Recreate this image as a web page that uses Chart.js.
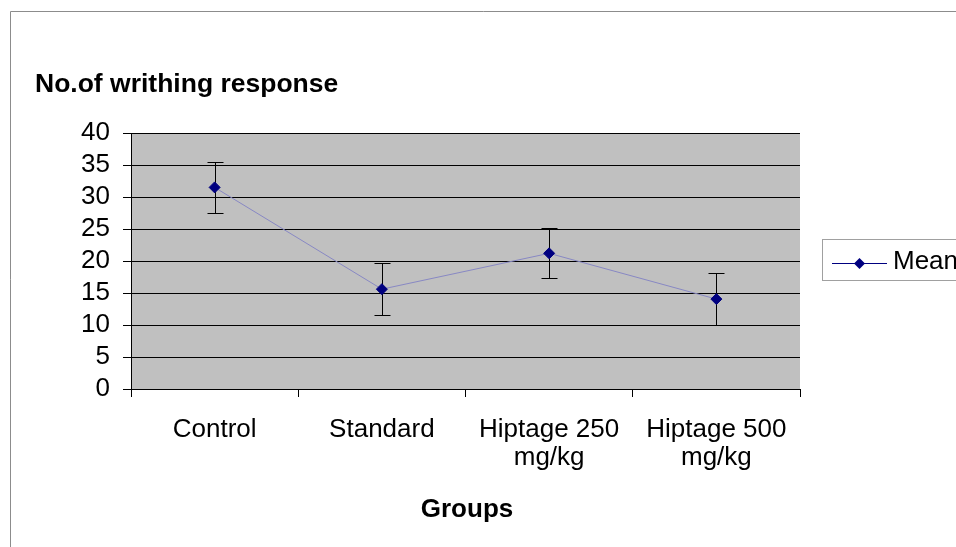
<!DOCTYPE html>
<html>
<head>
<meta charset="utf-8">
<script src="https://cdn.jsdelivr.net/npm/chart.js@4.4.0/dist/chart.umd.min.js"></script>
<style>
  body { margin: 0; background: #fff; }
  canvas { display: block; }
</style>
</head>
<body>
<canvas id="chart" width="956" height="547"></canvas>
<script>
const groups = [["Control"], ["Standard"], ["Hiptage 250", "mg/kg"], ["Hiptage 500", "mg/kg"]];
const meanValues = [31.5, 15.6, 21.2, 14.05];
const errorValues = [4.0, 4.1, 3.9, 4.05];
const yMin = 0, yMax = 40, yStep = 5;
const seriesName = "Mean";
const chartTitle = "No.of writhing response";
const xTitle = "Groups";

const FONT = '"Liberation Sans", Arial, sans-serif';
const NAVY = "#000080";

// grey plot area, error bars, titles, legend and outer frame
const extras = {
  id: "extras",
  beforeDraw(chart) {
    const { ctx, chartArea: a } = chart;
    ctx.save();
    ctx.fillStyle = "#c0c0c0";
    ctx.fillRect(a.left, a.top, a.right - a.left, a.bottom - a.top);
    ctx.restore();
  },
  beforeDatasetsDraw(chart) {
    const { ctx, scales } = chart;
    ctx.save();
    ctx.strokeStyle = "#000";
    ctx.lineWidth = 1;
    meanValues.forEach((v, i) => {
      const x = Math.round(scales.x.getPixelForValue(i)) + 0.5;
      const yTop = Math.round(scales.y.getPixelForValue(v + errorValues[i])) + 0.5;
      const yBot = Math.round(scales.y.getPixelForValue(v - errorValues[i])) + 0.5;
      ctx.beginPath();
      ctx.moveTo(x, yTop); ctx.lineTo(x, yBot);
      ctx.moveTo(x - 8, yTop); ctx.lineTo(x + 8, yTop);
      ctx.moveTo(x - 8, yBot); ctx.lineTo(x + 8, yBot);
      ctx.stroke();
    });
    ctx.restore();
  },
  afterDraw(chart) {
    const { ctx } = chart;
    ctx.save();
    // outer frame
    ctx.strokeStyle = "#8c8c8c";
    ctx.lineWidth = 1;
    ctx.beginPath();
    ctx.moveTo(10.5, 560); ctx.lineTo(10.5, 11.5); ctx.lineTo(970, 11.5);
    ctx.stroke();

    ctx.fillStyle = "#000";
    ctx.textBaseline = "alphabetic";
    ctx.font = "bold 26.5px " + FONT;
    ctx.textAlign = "left";
    ctx.fillText(chartTitle, 35, 92);
    ctx.font = "bold 26px " + FONT;
    ctx.textAlign = "center";
    ctx.fillText(xTitle, 467, 517);

    // legend
    ctx.strokeStyle = "#a0a0a0";
    ctx.strokeRect(822.5, 239.5, 200, 41);
    ctx.strokeStyle = NAVY;
    ctx.beginPath();
    ctx.moveTo(832, 263.5); ctx.lineTo(887, 263.5);
    ctx.stroke();
    ctx.fillStyle = NAVY;
    ctx.beginPath();
    ctx.moveTo(859.5, 258); ctx.lineTo(865, 263.5); ctx.lineTo(859.5, 269); ctx.lineTo(854, 263.5);
    ctx.closePath();
    ctx.fill();
    ctx.fillStyle = "#000";
    ctx.font = "26px " + FONT;
    ctx.textAlign = "left";
    ctx.textBaseline = "middle";
    ctx.fillText(seriesName, 893, 262);
    ctx.restore();
  }
};

new Chart(document.getElementById("chart"), {
  type: "line",
  data: {
    labels: groups,
    datasets: [{
      label: seriesName,
      data: meanValues,
      borderColor: "#8888c4",
      borderWidth: 1,
      pointStyle: "rectRot",
      pointRadius: 5.5,
      pointBackgroundColor: NAVY,
      pointBorderColor: NAVY,
      pointBorderWidth: 1,
      tension: 0
    }]
  },
  options: {
    responsive: false,
    animation: false,
    devicePixelRatio: 1,
    layout: { padding: { left: 0, top: 133, right: 156, bottom: 0 } },
    plugins: { legend: { display: false }, tooltip: { enabled: false } },
    scales: {
      x: {
        offset: true,
        grid: { offset: true, drawOnChartArea: false, drawTicks: true, tickLength: 8, color: "#000" },
        border: { color: "#000", width: 1 },
        ticks: {
          color: "#000", padding: 19, maxRotation: 0, autoSkip: false,
          font: { family: FONT, size: 26, lineHeight: 1.08 }
        },
        afterFit: s => { s.height = 547 - 389; }
      },
      y: {
        min: yMin, max: yMax,
        grid: { color: "#000", tickLength: 8, lineWidth: 1 },
        border: { color: "#000", width: 1 },
        ticks: {
          stepSize: yStep, color: "#000", padding: 13, autoSkip: false,
          font: { family: FONT, size: 26 }
        },
        afterFit: s => { s.width = 131; }
      }
    }
  },
  plugins: [extras]
});
</script>
</body>
</html>
